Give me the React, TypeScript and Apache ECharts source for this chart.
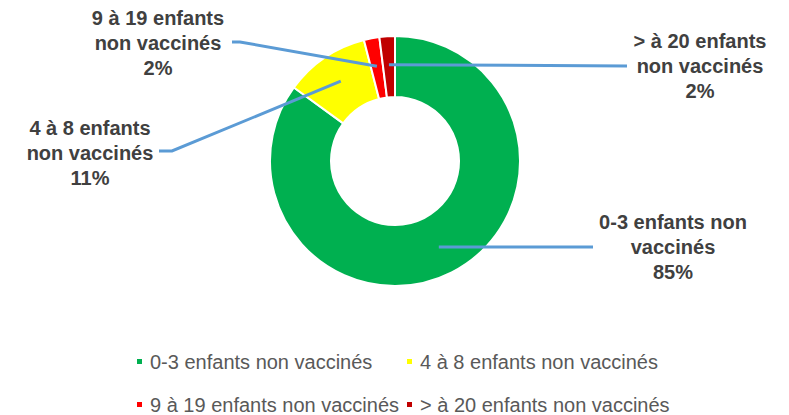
import React, { useEffect, useRef } from "react";
import * as echarts from "echarts";

const categories = [
  "0-3 enfants non vaccinés",
  "4 à 8 enfants non vaccinés",
  "9 à 19 enfants non vaccinés",
  "> à 20 enfants non vaccinés",
];
const values = [85, 11, 2, 2];
const labelNames = [
  "0-3 enfants non\nvaccinés",
  "4 à 8 enfants\nnon vaccinés",
  "9 à 19 enfants\nnon vaccinés",
  "> à 20 enfants\nnon vaccinés",
];
const colors = ["#00B050", "#FFFF00", "#FF0000", "#C00000"];

// styling: pie geometry and label placement
const CX = 395;
const CY = 161;
const R_IN = 64;
const R_OUT = 125;
const labelPos = [
  { x: 673, y: 247, tail: [[593, 247]] },
  { x: 90, y: 153, tail: [[172, 151], [159, 151]] },
  { x: 158, y: 43, tail: [[240, 42], [232, 42]] },
  { x: 700, y: 66, tail: [[627, 66]] },
];
const legendPos = [
  { left: 135, top: 351.5 },
  { left: 405, top: 351.5 },
  { left: 135, top: 394.5 },
  { left: 405, top: 394.5 },
];

export default function App() {
  const ref = useRef<HTMLDivElement>(null);
  useEffect(() => {
    if (!ref.current) return;
    const chart = echarts.init(ref.current, undefined, { renderer: "svg" });
    const total = values.reduce((a, b) => a + b, 0);

    // leader lines start at the middle of each slice (computed from the data)
    let acc = 0;
    const rMid = (R_IN + R_OUT) / 2 + 2;
    const leaders = values.map((v, i) => {
      const mid = ((acc + v / 2) / total) * Math.PI * 2;
      acc += v;
      const sx = CX + rMid * Math.sin(mid);
      const sy = CY - rMid * Math.cos(mid);
      return {
        type: "polyline",
        z: 100,
        silent: true,
        shape: { points: [[sx, sy], ...labelPos[i].tail] },
        style: { stroke: "#5B9BD5", lineWidth: 3, fill: "none" },
      };
    });

    chart.setOption({
      animation: false,
      backgroundColor: "#ffffff",
      color: colors,
      legend: categories.map((c, i) => ({
        data: [c],
        left: legendPos[i].left,
        top: legendPos[i].top,
        padding: 0,
        icon: "rect",
        itemWidth: 7,
        itemHeight: 7,
        selectedMode: false,
        textStyle: {
          fontFamily: "Liberation Sans",
          fontSize: 20,
          color: "#595959",
          padding: [0, 0, 0, 2],
        },
      })),
      graphic: leaders,
      series: [
        {
          type: "pie",
          center: [CX, CY],
          radius: [R_IN, R_OUT],
          startAngle: 90,
          clockwise: true,
          avoidLabelOverlap: false,
          itemStyle: { borderColor: "#ffffff", borderWidth: 2 },
          data: categories.map((c, i) => ({
            name: c,
            value: values[i],
            itemStyle: { color: colors[i] },
          })),
          label: {
            show: true,
            position: "outside",
            formatter: (p: any) =>
              labelNames[p.dataIndex] +
              "\n" +
              Math.round((values[p.dataIndex] / total) * 100) +
              "%",
            fontFamily: "Liberation Sans",
            fontWeight: "bold",
            fontSize: 20,
            lineHeight: 25,
            color: "#404040",
            align: "center",
          },
          labelLine: { show: false },
          labelLayout: (params: any) => {
            const p = labelPos[params.dataIndex];
            return {
              x: p.x,
              y: p.y,
              align: "center",
              verticalAlign: "middle",
            };
          },
        },
      ],
    });
    return () => chart.dispose();
  }, []);
  return (
    <div
      ref={ref}
      style={{ position: "absolute", left: 0, top: 0, width: 789, height: 415 }}
    />
  );
}
